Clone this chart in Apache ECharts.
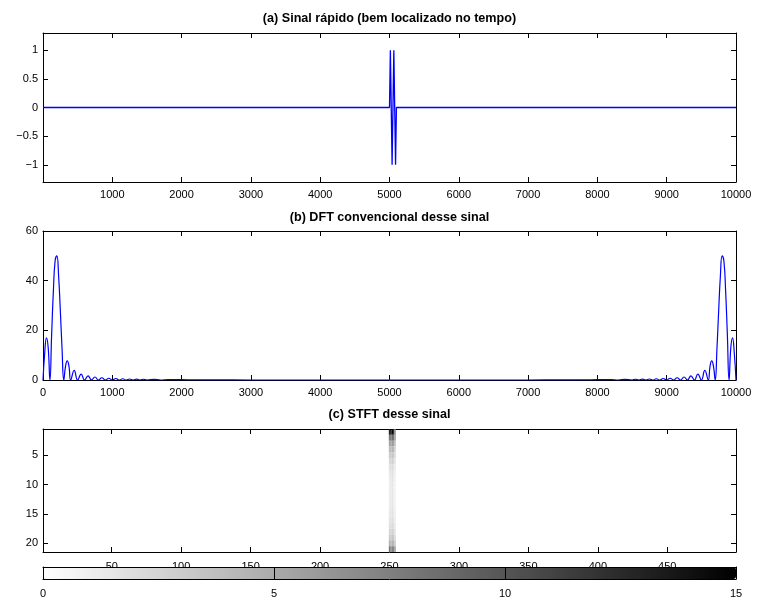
<!DOCTYPE html>
<html><head><meta charset="utf-8">
<script src="https://cdn.jsdelivr.net/npm/echarts@6/dist/echarts.min.js"></script>
<style>html,body{margin:0;padding:0;background:#fff}#c{width:757px;height:601px}</style>
</head><body><div id="c"></div>
<script>
// ---------- data ----------
const titles = ['(a) Sinal rápido (bem localizado no tempo)', '(b) DFT convencional desse sinal', '(c) STFT desse sinal'];

// (a) signal
const sigT = [0, 5000, 5012.5, 5025, 5037.5, 5050, 5062.5, 5075, 5087.5, 5100, 10000];
const sigV = [0, 0, 1, 0, -1, 0, 1, 0, -1, 0, 0];
const sigYTicks = [-1, -0.5, 0, 0.5, 1];

// (b) DFT magnitude, low-frequency side
const dftLeftK = [0,25,50,75,100,125,150,175,200,225,250,275,300,325,350,375,400,450,500,550,600,650,700,750,800,850,900,950,1000,1050,1100,1150,1200,1250,1300,1350,1400,1450,1500,1600,1700,1800,2000,2200,2500,3000];
const dftLeftM = [0,11,17,13,0,18.5,36,48,50,42,28,12.5,0,5.5,7.7,5.5,0,3.9,0,2.4,0,1.7,0,1.2,0,0.9,0,0.7,0,0.6,0,0.5,0,0.4,0,0.35,0,0.3,0,0.25,0,0.2,0.12,0.1,0.06,0];
// (b) DFT magnitude, high-frequency side
const dftRightK = [7000,7500,7800,8000,8200,8300,8400,8500,8550,8600,8650,8700,8750,8800,8850,8900,8950,9000,9050,9100,9150,9200,9250,9300,9350,9400,9450,9500,9550,9600,9625,9650,9675,9700,9725,9750,9775,9800,9825,9850,9875,9900,9925,9950,9975,10000];
const dftRightM = [0,0.06,0.1,0.12,0.2,0,0.25,0,0.3,0,0.35,0,0.4,0,0.5,0,0.6,0,0.7,0,0.9,0,1.2,0,1.7,0,2.4,0,3.9,0,5.5,7.7,5.5,0,12.5,28,42,50,48,36,18.5,0,13,17,11,0];

// (c) STFT magnitude (only non-zero columns)
const stftCols = [250, 251, 252, 253, 254];
const stftRows = [1,2,3,4,5,6,7,8,9,10,11,12,13,14,15,16,17,18,19,20,21];
const stftVals = [
  [13, 15, 15, 12, 7],
  [8, 9, 9, 8, 6],
  [5.5, 6, 6, 5.5, 4],
  [4, 4.5, 4.5, 4, 3],
  [3, 3.5, 3.5, 3, 2.5],
  [2.2, 2.8, 2.8, 2.2, 1.8],
  [1.6, 2.1, 2.1, 1.6, 1.3],
  [1.3, 1.8, 1.8, 1.3, 1.1],
  [1.1, 1.6, 1.6, 1.1, 1],
  [1, 1.5, 1.5, 1, 0.9],
  [1, 1.4, 1.4, 1, 0.9],
  [1, 1.4, 1.4, 1, 0.9],
  [1, 1.5, 1.5, 1, 0.9],
  [1.1, 1.6, 1.6, 1.1, 1],
  [1.3, 1.7, 1.7, 1.3, 1.1],
  [1.5, 1.9, 1.9, 1.5, 1.2],
  [1.8, 2.2, 2.2, 1.8, 1.5],
  [2.3, 2.7, 2.7, 2.3, 1.8],
  [3, 3.4, 3.4, 3, 2.4],
  [4.5, 4.5, 4.5, 4.2, 3.5],
  [8, 7.5, 7.5, 7, 6]
];
const stftXTicks = [50, 100, 150, 200, 250, 300, 350, 400, 450];
const stftYTicks = [5, 10, 15, 20];
const cbarMin = 0, cbarMax = 15;

// ---------- build ----------
const FONT = '"Liberation Sans", Arial, Helvetica, sans-serif';
const sigData = sigT.map((t, i) => [t, sigV[i]]);
const dftData = dftLeftK.map((k, i) => [k, dftLeftM[i]]).concat(dftRightK.map((k, i) => [k, dftRightM[i]]));
const stftData = [];
stftRows.forEach((r, ri) => stftCols.forEach((c, ci) => stftData.push([c, r, stftVals[ri][ci]])));

const L = 43, W = 693;
const grids = [
  {left: L, width: W, top: 33, height: 149},
  {left: L, width: W, top: 231, height: 149},
  {left: L, width: W, top: 429, height: 123},
  {left: L, width: W, top: 567, height: 12}
];
function plainFmt(v) { return v < 0 ? '\u2212' + String(Math.abs(v)) : String(v); }
function ax(gi, pos, o, labels) {
  const a = Object.assign({
    gridIndex: gi, type: 'value', position: pos,
    axisLine: {show: true, onZero: false, lineStyle: {color: '#000', width: 1}},
    axisTick: {show: true, inside: true, length: 5, lineStyle: {color: '#000', width: 1}},
    axisLabel: {show: labels, color: '#000', fontSize: 11, fontFamily: FONT, formatter: plainFmt,
                margin: (pos === 'left' || pos === 'right') ? 5 : 7},
    splitLine: {show: false}
  }, o);
  if (o.ticksCustom) {
    a.axisTick.customValues = o.ticksCustom;
    a.axisLabel.customValues = o.ticksCustom;
    delete a.ticksCustom;
  }
  if (o.hideMin) { a.axisLabel.showMinLabel = false; delete a.hideMin; }
  if (o.tickLen) { a.axisTick.length = o.tickLen; delete a.tickLen; }
  if (o.noTick) { a.axisTick.show = false; delete a.noTick; }
  if (o.labMargin) { a.axisLabel.margin = o.labMargin; delete a.labMargin; }
  return a;
}
const xAxes = [
  ax(0, 'bottom', {min: 0, max: 10000, interval: 1000, hideMin: true}, true),
  ax(0, 'top', {min: 0, max: 10000, interval: 1000}, false),
  ax(1, 'bottom', {min: 0, max: 10000, interval: 1000}, true),
  ax(1, 'top', {min: 0, max: 10000, interval: 1000}, false),
  ax(2, 'bottom', {min: 0.5, max: 499.5, ticksCustom: stftXTicks, labMargin: 9}, true),
  ax(2, 'top', {min: 0.5, max: 499.5, ticksCustom: stftXTicks}, false),
  ax(3, 'bottom', {min: cbarMin, max: cbarMax, interval: 5, tickLen: 12, labMargin: 9, z: 10}, true),
  ax(3, 'top', {min: cbarMin, max: cbarMax, interval: 5, noTick: true, z: 10}, false)
];
const yAxes = [
  ax(0, 'left', {min: -1.3, max: 1.3, ticksCustom: sigYTicks}, true),
  ax(0, 'right', {min: -1.3, max: 1.3, ticksCustom: sigYTicks}, false),
  ax(1, 'left', {min: 0, max: 60, interval: 20}, true),
  ax(1, 'right', {min: 0, max: 60, interval: 20}, false),
  ax(2, 'left', {min: 0.5, max: 21.5, inverse: true, ticksCustom: stftYTicks}, true),
  ax(2, 'right', {min: 0.5, max: 21.5, inverse: true, ticksCustom: stftYTicks}, false),
  ax(3, 'left', {min: 0, max: 1, noTick: true, z: 10}, false),
  ax(3, 'right', {min: 0, max: 1, noTick: true, z: 10}, false)
];
const titleY = [19, 218, 415];
const graphics = titles.map((t, i) => ({
  type: 'text', x: L + W / 2, y: titleY[i], z: 20,
  style: {text: t, font: 'bold 12.6px ' + FONT, fill: '#000', align: 'center', verticalAlign: 'middle'}
}));

const chart = echarts.init(document.getElementById('c'), null, {renderer: 'canvas'});
chart.setOption({
  animation: false,
  backgroundColor: '#fff',
  grid: grids,
  xAxis: xAxes,
  yAxis: yAxes,
  graphic: graphics,
  visualMap: {
    type: 'continuous', min: cbarMin, max: cbarMax, seriesIndex: 2, dimension: 2,
    inRange: {color: ['#ffffff', '#000000']},
    orient: 'horizontal', left: L, top: 567, itemWidth: 12, itemHeight: W,
    calculable: false, hoverLink: false, padding: 0, text: null, show: true, z: 4
  },
  series: [
    {type: 'line', xAxisIndex: 0, yAxisIndex: 0, data: sigData, showSymbol: false, symbol: 'none', z: 5,
     lineStyle: {color: '#0000ff', width: 1.3}, itemStyle: {color: '#0000ff'}},
    {type: 'line', xAxisIndex: 2, yAxisIndex: 2, data: dftData, showSymbol: false, symbol: 'none', smooth: 0.5,
     lineStyle: {color: '#0000ff', width: 1.2}, itemStyle: {color: '#0000ff'}},
    {type: 'custom', xAxisIndex: 4, yAxisIndex: 4, data: stftData, clip: true,
     encode: {x: 0, y: 1},
     renderItem: function (params, api) {
       const x = api.value(0), y = api.value(1);
       const p0 = api.coord([x - 0.5, y - 0.5]);
       const p1 = api.coord([x + 0.5, y + 0.5]);
       return {type: 'rect',
         shape: {x: Math.min(p0[0], p1[0]), y: Math.min(p0[1], p1[1]), width: Math.abs(p1[0] - p0[0]), height: Math.abs(p1[1] - p0[1])},
         style: {fill: api.visual('color')}};
     }}
  ]
});
</script>
</body></html>
